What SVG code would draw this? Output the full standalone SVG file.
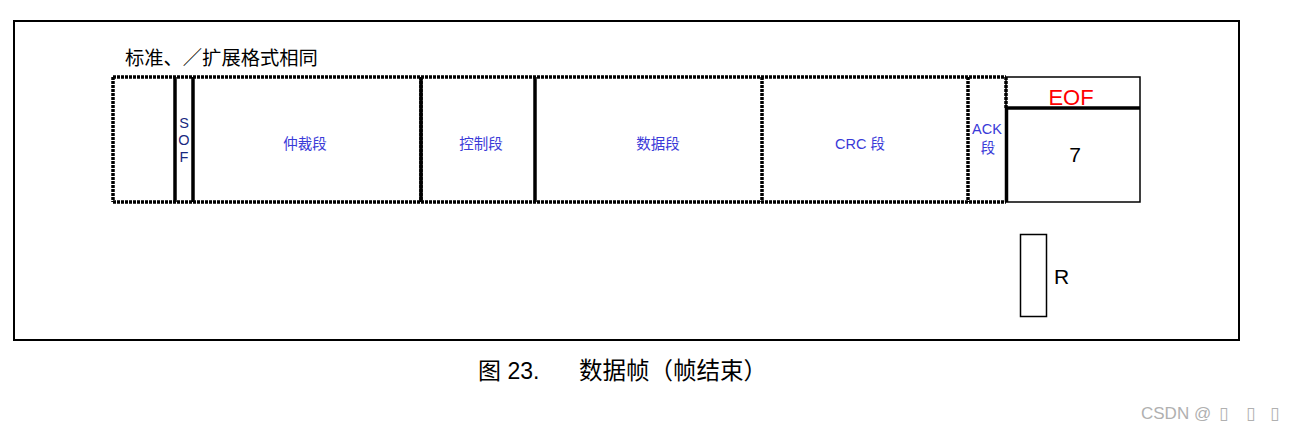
<svg xmlns="http://www.w3.org/2000/svg" width="1294" height="432" viewBox="0 0 1294 432">
<style>
.dot{stroke:#000;stroke-width:3.5;stroke-dasharray:3 1;fill:none}
.solid{stroke:#000;stroke-width:3.5;fill:none}
.thin{stroke:#000;stroke-width:1.5;fill:none}
.lbl{font-family:"Liberation Sans","Noto Sans CJK SC",sans-serif;font-size:14.5px;fill:#3a3ad8;text-anchor:middle}
.blk{font-family:"Liberation Sans","Noto Sans CJK SC",sans-serif;fill:#000}
.wm{font-family:"Liberation Sans","DejaVu Sans",sans-serif;font-size:17px;fill:#b0b0b0}
</style>
<rect x="0" y="0" width="1294" height="432" fill="#fff"/>
<rect id="frame" x="14" y="21" width="1225" height="319" fill="none" stroke="#000" stroke-width="2"/>
<text id="title" class="blk" x="125" y="65" font-size="19.3">标准、／扩展格式相同</text>
<g id="connectors">
<line class="dot" x1="113" y1="77" x2="1006" y2="77"/>
<line class="dot" x1="113" y1="202" x2="1006" y2="202"/>
<line class="dot" x1="113" y1="77" x2="113" y2="202"/>
<line class="dot" x1="762" y1="77" x2="762" y2="202"/>
<line class="dot" x1="968" y1="77" x2="968" y2="202"/>
<line class="dot" x1="1006" y1="77" x2="1006" y2="108"/>
<line class="solid" x1="175" y1="77" x2="175" y2="202"/>
<line class="solid" x1="193" y1="77" x2="193" y2="202"/>
<line class="dot" x1="421" y1="77" x2="421" y2="202"/>
<line class="solid" x1="421" y1="78" x2="421" y2="201" stroke-width="2.5"/>
<line class="solid" x1="535" y1="77" x2="535" y2="202"/>
</g>
<g id="sof">
<text class="lbl" x="184" y="128" style="fill:#1a2a80">S</text>
<text class="lbl" x="184" y="145" style="fill:#1a2a80">O</text>
<text class="lbl" x="184" y="162" style="fill:#1a2a80">F</text>
</g>
<g id="arb"><text class="lbl" x="305" y="149">仲裁段</text></g>
<g id="ctrl"><text class="lbl" x="481" y="149">控制段</text></g>
<g id="data"><text class="lbl" x="658" y="149">数据段</text></g>
<g id="crc"><text class="lbl" x="860" y="149">CRC 段</text></g>
<g id="ack">
<text class="lbl" x="987" y="134">ACK</text>
<text class="lbl" x="988" y="153">段</text>
</g>
<g id="eof">
<rect class="thin" x="1006" y="77" width="134" height="125"/>
<line class="solid" x1="1006" y1="108" x2="1140" y2="108" stroke-width="4"/>
<line class="solid" x1="1006.5" y1="108" x2="1006.5" y2="202" stroke-width="4"/>
<text class="blk" x="1071" y="105" font-size="22" text-anchor="middle" style="fill:#f00">EOF</text>
<text class="blk" x="1075" y="162" font-size="21" text-anchor="middle">7</text>
</g>
<g id="r">
<rect class="thin" x="1020.5" y="234.5" width="26" height="82"/>
<text class="blk" x="1054" y="284" font-size="21">R</text>
</g>
<text id="caption" class="blk" x="478" y="379" font-size="23">图 23.</text>
<text id="caption2" class="blk" x="579" y="379" font-size="23.5">数据帧（帧结束）</text>
<g id="watermark">
<text class="wm" x="1141" y="419">CSDN @</text>
<text class="wm" x="1219" y="419">▯</text>
<text class="wm" x="1246" y="419">▯</text>
<text class="wm" x="1270" y="419">▯</text>
</g>
</svg>
